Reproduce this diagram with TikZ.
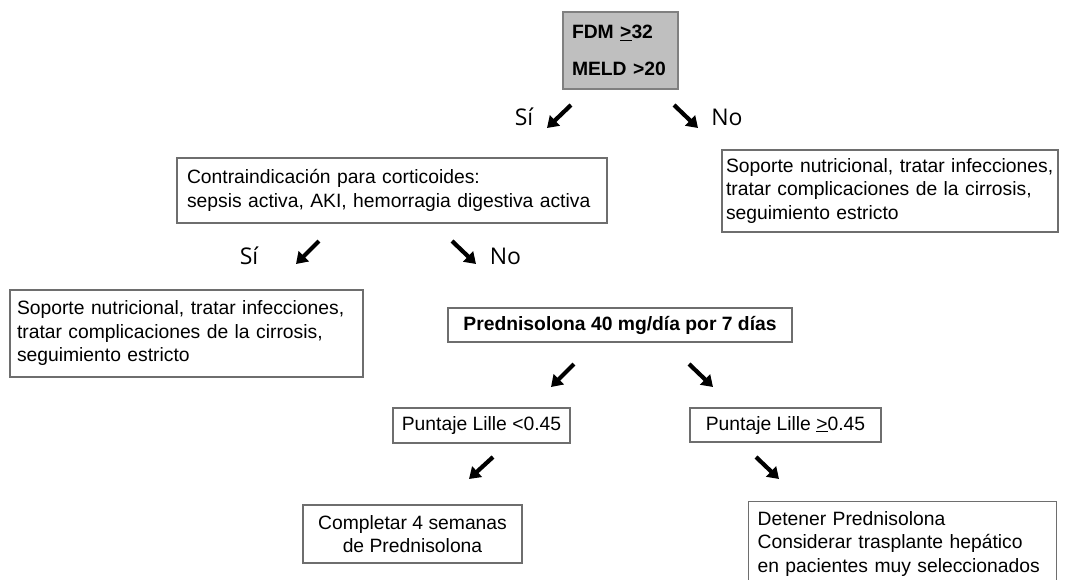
\documentclass[tikz,border=0pt]{standalone}
\usepackage{fontspec}
\setmainfont{Liberation Sans}
\newfontfamily\yesnofont{Open Sans}
\usetikzlibrary{arrows.meta}
\definecolor{boxline}{HTML}{6E6E6E}
\definecolor{headfill}{HTML}{BFBFBF}
\definecolor{headline}{HTML}{808080}
\begin{document}
\begin{tikzpicture}[x=1pt,y=-1pt,
  box/.style={draw=boxline, line width=1.2pt, inner ysep=0pt,
    font=\fontsize{19.3}{23.5}\selectfont},
  leftbox/.style={box, align=left},
  centerbox/.style={box, align=center},
  oneline/.style={text height=14pt, text depth=4pt},
  headbox/.style={draw=headline, fill=headfill, line width=1.2pt,
    inner xsep=9pt, inner ysep=0pt, text width=97pt, align=left,
    minimum height=77pt, font=\bfseries\fontsize{19.3}{37}\selectfont},
  answer/.style={inner sep=0pt, font=\yesnofont\fontsize{23}{26}\selectfont},
  bigarrow/.style={line width=4.2pt, -{Triangle[length=11pt,width=14pt]}}
]
\fill[white] (0,0) rectangle (1068,579);
\useasboundingbox (0,0) rectangle (1068,579);
\clip (0,0) rectangle (1068,579);

% top criterion
\node[headbox] (crit) at (620.5,50.5)
  {FDM \underline{>}32\\MELD >20};

% first branching
\node[answer] (si1) at (524,117) {Sí};
\node[answer] (no1) at (727,117) {No};
\coordinate (a1t) at (571,105); \coordinate (a1h) at (547,128);
\coordinate (b1t) at (674,105); \coordinate (b1h) at (698,128);
\draw[bigarrow] (a1t) -- (a1h);
\draw[bigarrow] (b1t) -- (b1h);

% contraindication box
\node[leftbox, inner xsep=10pt, text width=410pt, minimum height=65pt]
  (contra) at (392,190.5)
  {Contraindicación para corticoides:\\sepsis activa, AKI, hemorragia digestiva activa};

% supportive care (criteria not met)
\node[leftbox, inner xsep=4pt, text width=328pt, minimum height=82pt]
  (supR) at (890,191)
  {Soporte nutricional, tratar infecciones,\\tratar complicaciones de la cirrosis,\\seguimiento estricto};

% second branching
\node[answer] (si2) at (249,256) {Sí};
\node[answer] (no2) at (505.5,256) {No};
\coordinate (a2t) at (319,241); \coordinate (a2h) at (296,264);
\coordinate (b2t) at (452,241); \coordinate (b2h) at (476,264);
\draw[bigarrow] (a2t) -- (a2h);
\draw[bigarrow] (b2t) -- (b2h);

% supportive care (contraindication present)
\node[leftbox, inner xsep=7pt, text width=339pt, minimum height=87pt]
  (supL) at (186.5,333.5)
  {Soporte nutricional, tratar infecciones,\\tratar complicaciones de la cirrosis,\\seguimiento estricto};

% steroid treatment
\node[centerbox, oneline, minimum width=344pt, minimum height=34pt,
  font=\bfseries\fontsize{19.3}{23.5}\selectfont]
  (pred) at (620,325) {Prednisolona 40 mg/día por 7 días};

\coordinate (a3t) at (574,364); \coordinate (a3h) at (551,387);
\coordinate (b3t) at (689,364); \coordinate (b3h) at (713,387);
\draw[bigarrow] (a3t) -- (a3h);
\draw[bigarrow] (b3t) -- (b3h);

% Lille score
\node[centerbox, oneline, minimum width=177pt, minimum height=35pt]
  (lilleLo) at (481.5,425.5) {Puntaje Lille <0.45};
\node[centerbox, oneline, minimum width=191pt, minimum height=34pt]
  (lilleHi) at (785.5,425) {Puntaje Lille \underline{>}0.45};

\coordinate (a4t) at (493,457); \coordinate (a4h) at (469,479);
\coordinate (b4t) at (756,457); \coordinate (b4h) at (779,479);
\draw[bigarrow] (a4t) -- (a4h);
\draw[bigarrow] (b4t) -- (b4h);

% outcomes
\node[centerbox, minimum width=219pt, minimum height=58pt]
  (cont) at (412.5,534) {Completar 4 semanas\\de Prednisolona};
\node[leftbox, anchor=north west, inner xsep=9pt, text width=290pt,
  minimum height=84pt]
  (stop) at (748,501)
  {Detener Prednisolona\\Considerar trasplante hepático\\en pacientes muy seleccionados};
\end{tikzpicture}
\end{document}
